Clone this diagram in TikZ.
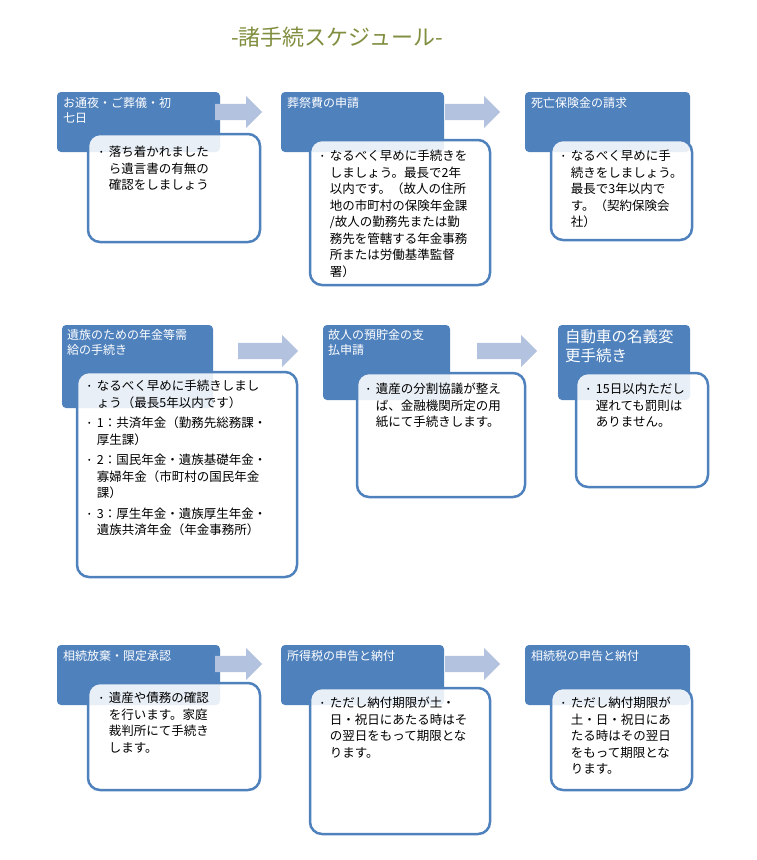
\documentclass[tikz,border=0pt]{standalone}
\usepackage{fontspec}
\setmainfont{Noto Sans CJK JP}
\usetikzlibrary{shapes.arrows}
\definecolor{hdr}{HTML}{4F81BD}
\definecolor{arw}{HTML}{B3C2DE}
\definecolor{ttl}{HTML}{7F8F3F}
\newcommand\bx{\makebox[0.7em][l]{\raisebox{0.15em}{\scalebox{0.6}{•}}}}
\newcommand\ix{\makebox[0.7em][l]{}}
\begin{document}
\begin{tikzpicture}[x=1pt,y=-1pt,
  hd/.style={fill=hdr,rounded corners=4pt,draw=none},
  bd/.style={fill=white,fill opacity=0.88,draw=hdr,line width=2.5pt,rounded corners=12pt},
  ht/.style={anchor=north west,text=white,align=left,font=\fontsize{12}{15}\selectfont,inner sep=0pt},
  bt/.style={anchor=north west,align=left,font=\fontsize{12.5}{16.5}\selectfont,inner sep=0pt},
  ar/.style={single arrow,fill=arw,draw=none,single arrow head extend=8pt,inner sep=8pt,minimum height=#1,anchor=west}]
\useasboundingbox (0,0) rectangle (756,860);
\node[text=ttl,font=\fontsize{22}{26}\selectfont] (title) at (337,37) {-諸手続スケジュール-};
% Row 1
\fill[hd] (57,92) rectangle (220,152);
\node[ht] (h1) at (63,97) {お通夜・ご葬儀・初\\七日};
\draw[bd] (88,134) rectangle (260,242);
\node[bt] (b1) at (100,146) {\bx 落ち着かれました\\\ix ら遺言書の有無の\\\ix 確認をしましょう};
\node[ar=47pt] (a1) at (215,112) {};
\fill[hd] (281,92) rectangle (444,152);
\node[ht] (h2) at (287,97) {葬祭費の申請};
\draw[bd] (310,140) rectangle (490,285);
\node[bt] (b2) at (321,150) {\bx なるべく早めに手続きを\\\ix しましょう。最長で2年\\\ix 以内です。（故人の住所\\\ix 地の市町村の保険年金課\\\ix /故人の勤務先または勤\\\ix 務先を管轄する年金事務\\\ix 所または労働基準監督\\\ix 署）};
\node[ar=55pt] (a2) at (445,112) {};
\fill[hd] (525,92) rectangle (690,152);
\node[ht] (h3) at (531,97) {死亡保険金の請求};
\draw[bd] (551,140) rectangle (692,240);
\node[bt] (b3) at (562,150) {\bx なるべく早めに手\\\ix 続きをしましょう。\\\ix 最長で3年以内で\\\ix す。（契約保険会\\\ix 社）};
% Row 2
\fill[hd] (62,325) rectangle (213,408);
\node[ht] (h4) at (67,329) {遺族のための年金等需\\給の手続き};
\draw[bd] (77,372) rectangle (297,577);
\node[bt] (b4) at (88,380) {\bx なるべく早めに手続きしまし\\\ix ょう（最長5年以内です）\\[4pt]\bx 1：共済年金（勤務先総務課・\\\ix 厚生課）\\[4pt]\bx 2：国民年金・遺族基礎年金・\\\ix 寡婦年金（市町村の国民年金\\\ix 課）\\[4pt]\bx 3：厚生年金・遺族厚生年金・\\\ix 遺族共済年金（年金事務所）};
\node[ar=60pt] (a4) at (238,351) {};
\fill[hd] (323,325) rectangle (450,400);
\node[ht] (h5) at (328,329) {故人の預貯金の支\\払申請};
\draw[bd] (357,373) rectangle (525,497);
\node[bt] (b5) at (367,383) {\bx 遺産の分割協議が整え\\\ix ば、金融機関所定の用\\\ix 紙にて手続きします。};
\node[ar=60pt] (a5) at (477,351) {};
\fill[hd] (558,325) rectangle (690,400);
\node[ht,font=\fontsize{15.5}{19}\selectfont] (h6) at (565,329) {自動車の名義変\\更手続き};
\draw[bd] (576,373) rectangle (708,487);
\node[bt] (b6) at (587,383) {\bx 15日以内ただし\\\ix 遅れても罰則は\\\ix ありません。};
% Row 3
\fill[hd] (57,645) rectangle (220,705);
\node[ht] (h7) at (63,650) {相続放棄・限定承認};
\draw[bd] (88,683) rectangle (260,790);
\node[bt] (b7) at (100,692) {\bx 遺産や債務の確認\\\ix を行います。家庭\\\ix 裁判所にて手続き\\\ix します。};
\node[ar=47pt] (a7) at (215,664) {};
\fill[hd] (281,645) rectangle (444,705);
\node[ht] (h8) at (287,650) {所得税の申告と納付};
\draw[bd] (310,688) rectangle (490,834);
\node[bt] (b8) at (321,697) {\bx ただし納付期限が土・\\\ix 日・祝日にあたる時はそ\\\ix の翌日をもって期限とな\\\ix ります。};
\node[ar=55pt] (a8) at (445,664) {};
\fill[hd] (525,645) rectangle (690,705);
\node[ht] (h9) at (531,650) {相続税の申告と納付};
\draw[bd] (551,688) rectangle (692,790);
\node[bt] (b9) at (562,697) {\bx ただし納付期限が\\\ix 土・日・祝日にあ\\\ix たる時はその翌日\\\ix をもって期限とな\\\ix ります。};
\end{tikzpicture}
\end{document}
